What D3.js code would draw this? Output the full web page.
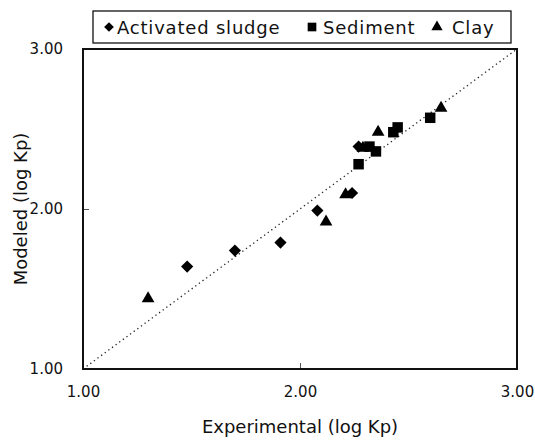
<!DOCTYPE html>
<html>
<head>
<meta charset="utf-8">
<script src="https://cdn.jsdelivr.net/npm/d3@7"></script>
<style>
  body { margin: 0; background: #fff; }
  svg text { font-family: "DejaVu Sans", Arial, sans-serif; fill: #111; }
</style>
</head>
<body>
<div id="chart"></div>
<script>
// data
const sludgeX = [1.48, 1.70, 1.91, 2.08, 2.24, 2.27];
const sludgeY = [1.64, 1.74, 1.79, 1.99, 2.10, 2.39];
const sedimentX = [2.27, 2.32, 2.35, 2.43, 2.45, 2.60];
const sedimentY = [2.28, 2.39, 2.36, 2.48, 2.51, 2.57];
const clayX = [1.30, 2.12, 2.21, 2.29, 2.36, 2.65];
const clayY = [1.44, 1.92, 2.09, 2.38, 2.48, 2.63];
const tickValues = [1, 2, 3];
const seriesNames = ['Activated sludge', 'Sediment', 'Clay'];

const width = 535, height = 442;
const margin = { left: 83, right: 18, top: 49, bottom: 73 };

const svg = d3.select('#chart').append('svg')
  .attr('width', width)
  .attr('height', height);

const x = d3.scaleLinear().domain([1, 3]).range([margin.left, width - margin.right]);
const y = d3.scaleLinear().domain([1, 3]).range([height - margin.bottom, margin.top]);

// 1:1 line
svg.append('line')
  .attr('x1', x(1)).attr('y1', y(1))
  .attr('x2', x(3)).attr('y2', y(3))
  .attr('stroke', '#222')
  .attr('stroke-width', 1.3)
  .attr('stroke-dasharray', '1.3,3.2');

// axes, ticks pointing inward
const xAxis = svg.append('g')
  .attr('transform', `translate(0,${y(1)})`)
  .call(d3.axisBottom(x).tickValues(tickValues).tickSize(-6).tickPadding(17).tickFormat(d3.format('.2f')));
const yAxis = svg.append('g')
  .attr('transform', `translate(${x(1)},0)`)
  .call(d3.axisLeft(y).tickValues(tickValues).tickSize(-6).tickPadding(20).tickFormat(d3.format('.2f')));

[xAxis, yAxis].forEach(g => {
  g.select('.domain').remove();
  g.selectAll('.tick line').attr('stroke', '#555');
  g.selectAll('.tick text').style('font-size', '15px').attr('fill', '#111');
});

// frame
svg.append('rect')
  .attr('x', x(1)).attr('y', y(3))
  .attr('width', x(3) - x(1)).attr('height', y(1) - y(3))
  .attr('fill', 'none').attr('stroke', '#111').attr('stroke-width', 2);

// markers
const diamond = d3.symbol().type(d3.symbolDiamond2).size(95);
const square = d3.symbol().type(d3.symbolSquare).size(110);
const triangle = d3.symbol().type(d3.symbolTriangle).size(70);

function plotSeries(xs, ys, sym) {
  svg.append('g').selectAll('path')
    .data(xs.map((v, i) => [v, ys[i]]))
    .join('path')
    .attr('d', sym)
    .attr('transform', d => `translate(${x(d[0])},${y(d[1])})`)
    .attr('fill', '#000');
}
plotSeries(sludgeX, sludgeY, diamond);
plotSeries(sedimentX, sedimentY, square);
plotSeries(clayX, clayY, triangle);

// axis titles
svg.append('text')
  .attr('x', (x(1) + x(3)) / 2).attr('y', 433)
  .attr('text-anchor', 'middle')
  .style('font-size', '18px')
  .text('Experimental (log Kp)');

svg.append('text')
  .attr('transform', `translate(27,${(y(1) + y(3)) / 2}) rotate(-90)`)
  .attr('text-anchor', 'middle')
  .style('font-size', '18px')
  .text('Modeled (log Kp)');

// legend
const legend = svg.append('g');
legend.append('rect')
  .attr('x', 93).attr('y', 11).attr('width', 418).attr('height', 32)
  .attr('fill', '#fff').attr('stroke', '#111').attr('stroke-width', 1.3);

const legendSyms = [
  d3.symbol().type(d3.symbolDiamond2).size(60),
  d3.symbol().type(d3.symbolSquare).size(75),
  d3.symbol().type(d3.symbolTriangle).size(55)
];
const legendMarkX = [109, 312, 437];
const legendTextX = [117, 323, 452];
seriesNames.forEach((name, i) => {
  legend.append('path')
    .attr('d', legendSyms[i])
    .attr('transform', `translate(${legendMarkX[i]},27)`)
    .attr('fill', '#000');
  legend.append('text')
    .attr('x', legendTextX[i]).attr('y', 34)
    .style('font-size', '18px')
    .style('letter-spacing', '0.8px')
    .text(name);
});
</script>
</body>
</html>
